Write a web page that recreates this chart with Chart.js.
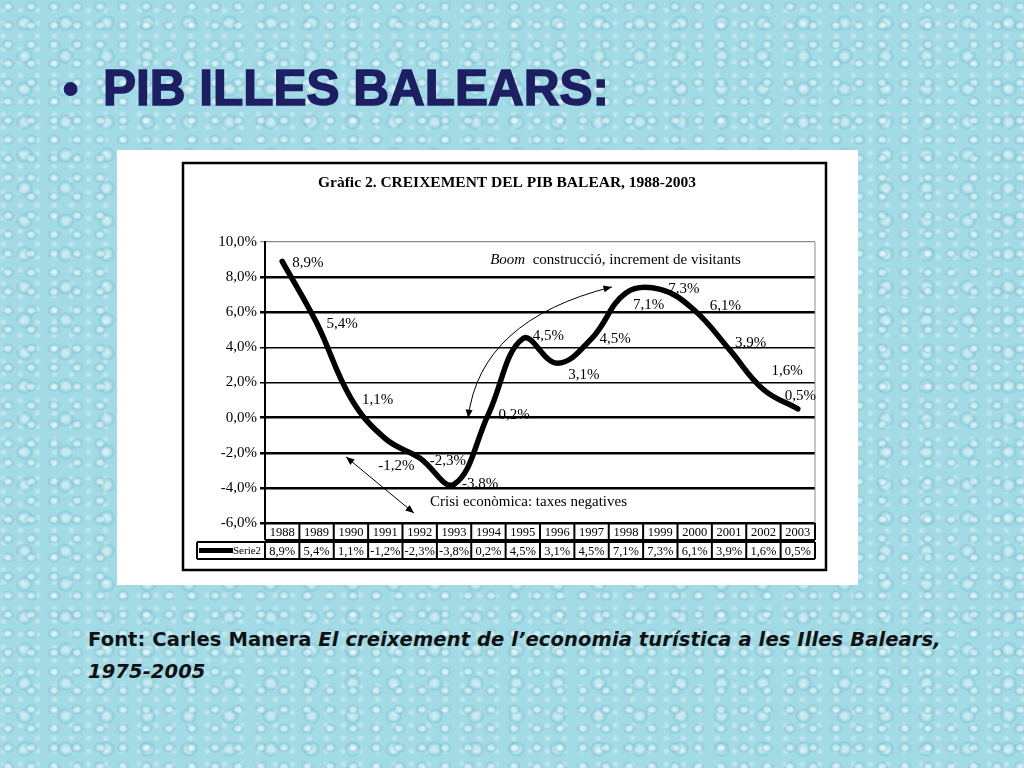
<!DOCTYPE html>
<html>
<head>
<meta charset="utf-8">
<script src="https://cdn.jsdelivr.net/npm/chart.js@4.4.0/dist/chart.umd.min.js"></script>
<style>
  html, body { margin: 0; padding: 0; }
  body {
    width: 1024px; height: 768px; overflow: hidden; position: relative;
    background-color: #a2dae5;
    background-image:
      radial-gradient(ellipse at 35% 35%, rgba(255,255,255,0.5) 0 2px, rgba(110,185,200,0.35) 5px, transparent 7px),
      radial-gradient(ellipse at 60% 70%, rgba(255,255,255,0.4) 0 3px, rgba(100,180,196,0.3) 7px, transparent 9px),
      radial-gradient(circle at 20% 80%, rgba(255,255,255,0.35) 0 1px, transparent 4px);
    background-size: 23px 19px, 41px 33px, 17px 13px;
  }
  .bullet { position: absolute; left: 62px; top: 64px; font: bold 49px/1 "Liberation Sans", Arial, sans-serif; color: #1d1f62; }
  .title { position: absolute; left: 103px; top: 63px; font: bold 49.5px/1 "Liberation Sans", Arial, sans-serif; color: #1d1f62; -webkit-text-stroke: 1.5px #1d1f62; }
  #frame { position: absolute; left: 117px; top: 150px; width: 741px; height: 435px; background: #fff; }
  .source { position: absolute; left: 88px; top: 624px; width: 920px; font: bold 19.5px/32px "DejaVu Sans", sans-serif; color: #111; letter-spacing: 0.1px; }
  .source i { font-style: italic; }
</style>
</head>
<body>
<div class="bullet">•</div>
<div class="title">PIB ILLES BALEARS:</div>
<div id="frame"><canvas id="pib-chart" width="741" height="435"></canvas></div>
<div class="source">Font: Carles Manera <i>El creixement de l’economia turística a les Illes Balears,<br>1975-2005</i></div>
<script>
document.addEventListener('DOMContentLoaded', function () {
    const years = ['1988', '1989', '1990', '1991', '1992', '1993', '1994', '1995',
        '1996', '1997', '1998', '1999', '2000', '2001', '2002', '2003'];
    const growth = [8.9, 5.4, 1.1, -1.2, -2.3, -3.8, 0.2, 4.5, 3.1, 4.5, 7.1, 7.3, 6.1, 3.9, 1.6, 0.5];
    const seriesName = 'Serie2';
    const chartTitle = 'Gràfic 2. CREIXEMENT DEL PIB BALEAR, 1988-2003';

    // where each value label sits, relative to its point
    const labelOffsets = [[10, 2], [10, 1], [11, 2], [-7, 27], [10, 3], [8, 0], [10, 1], [10, -3],
        [11, 12], [8, 0], [7, 12], [8, 0], [15, -4], [6, -6], [8, -18], [-13, -13]];

    const serif = '"Liberation Serif", "Times New Roman", serif';
    const fmt = v => v.toFixed(1).replace('.', ',') + '%';

    function arrowHead(c, x, y, fromX, fromY, size) {
        const a = Math.atan2(y - fromY, x - fromX);
        c.beginPath();
        c.moveTo(x, y);
        c.lineTo(x - size * Math.cos(a - 0.4), y - size * Math.sin(a - 0.4));
        c.lineTo(x - size * Math.cos(a + 0.4), y - size * Math.sin(a + 0.4));
        c.closePath();
        c.fill();
    }

    const slideFrame = {
        id: 'slideFrame',
        beforeDraw(chart) {
            const c = chart.ctx;
            c.save();
            c.fillStyle = '#fff';
            c.fillRect(0, 0, chart.width, chart.height);
            c.strokeStyle = '#000';
            c.lineWidth = 2.5;
            c.strokeRect(66, 13, 643, 407);
            c.fillStyle = '#000';
            c.font = 'bold 15.5px ' + serif;
            c.textAlign = 'center';
            c.textBaseline = 'middle';
            c.fillText(chartTitle, 390, 33);
            c.restore();
        },
        afterDraw(chart) {
            const c = chart.ctx;
            const area = chart.chartArea;
            const xs = chart.scales.x;
            const ys = chart.scales.y;
            const px = (i, v) => [xs.getPixelForValue(i), ys.getPixelForValue(v)];
            c.save();

            // right edge of plot
            c.strokeStyle = '#8a8a8a';
            c.lineWidth = 1;
            c.beginPath();
            c.moveTo(area.right, area.top);
            c.lineTo(area.right, area.bottom);
            c.stroke();

            // data table under the plot
            const cellW = (area.right - area.left) / years.length;
            const r1Top = area.bottom, r1Bot = area.bottom + 17;
            const r2Top = area.bottom + 19, r2Bot = area.bottom + 36;
            const legendLeft = 80;
            c.strokeStyle = '#000';
            c.lineWidth = 2;
            c.beginPath();
            c.moveTo(area.left, r1Bot); c.lineTo(area.right, r1Bot);
            c.moveTo(legendLeft, r2Top); c.lineTo(area.right, r2Top);
            c.moveTo(legendLeft, r2Bot); c.lineTo(area.right, r2Bot);
            c.moveTo(legendLeft, r2Top); c.lineTo(legendLeft, r2Bot);
            for (let i = 0; i <= years.length; i++) {
                const x = area.left + i * cellW;
                c.moveTo(x, r1Top); c.lineTo(x, r1Bot);
                c.moveTo(x, r2Top); c.lineTo(x, r2Bot);
            }
            c.stroke();

            c.fillStyle = '#000';
            c.font = '12.5px ' + serif;
            c.textAlign = 'center';
            c.textBaseline = 'middle';
            years.forEach((yr, i) => {
                const cx = xs.getPixelForValue(i);
                c.fillText(yr, cx, (r1Top + r1Bot) / 2 + 1);
                c.fillText(fmt(growth[i]), cx, (r2Top + r2Bot) / 2 + 1);
            });
            c.lineWidth = 5;
            c.beginPath();
            c.moveTo(legendLeft + 2, (r2Top + r2Bot) / 2);
            c.lineTo(legendLeft + 36, (r2Top + r2Bot) / 2);
            c.stroke();
            c.font = '11px ' + serif;
            c.textAlign = 'left';
            c.fillText(seriesName, legendLeft + 36, (r2Top + r2Bot) / 2 + 1);

            // annotations
            c.lineWidth = 1;
            const [a1x, a1y] = px(9.59, 7.44);
            const [a1cx, a1cy] = px(5.75, 5.56);
            const [a1ex, a1ey] = px(5.41, -0.02);
            c.beginPath();
            c.moveTo(a1x, a1y);
            c.quadraticCurveTo(a1cx, a1cy, a1ex, a1ey);
            c.stroke();
            arrowHead(c, a1x, a1y, a1cx, a1cy, 9);
            arrowHead(c, a1ex, a1ey, a1cx, a1cy, 9);

            const [b1x, b1y] = px(1.86, -2.24);
            const [b2x, b2y] = px(3.83, -5.43);
            c.beginPath();
            c.moveTo(b1x, b1y);
            c.lineTo(b2x, b2y);
            c.stroke();
            arrowHead(c, b1x, b1y, b2x, b2y, 9);
            arrowHead(c, b2x, b2y, b1x, b1y, 9);

            c.textBaseline = 'middle';
            c.textAlign = 'left';
            const [t1x, t1y] = px(6.05, 8.97);
            c.font = 'italic 15px ' + serif;
            c.fillText('Boom', t1x, t1y);
            const bw = c.measureText('Boom  ').width;
            c.font = '15px ' + serif;
            c.fillText('construcció, increment de visitants', t1x + bw, t1y);
            const [t2x, t2y] = px(4.3, -4.8);
            c.fillText('Crisi econòmica: taxes negatives', t2x, t2y);

            // value labels
            c.font = '15px ' + serif;
            chart.getDatasetMeta(0).data.forEach((pt, i) => {
                const off = labelOffsets[i];
                c.fillText(fmt(growth[i]), pt.x + off[0], pt.y + off[1]);
            });
            c.restore();
        }
    };

    const ctx = document.getElementById('pib-chart');
    new Chart(ctx, {
        type: 'line',
        data: {
            labels: years,
            datasets: [{
                label: seriesName,
                data: growth,
                borderColor: '#000',
                borderWidth: 5.5,
                tension: 0.4,
                pointRadius: 0,
                fill: false,
                borderCapStyle: 'round'
            }]
        },
        options: {
            responsive: false,
            animation: false,
            devicePixelRatio: 1,
            layout: { padding: { left: 0, top: 92, right: 43, bottom: 62 } },
            plugins: {
                legend: { display: false },
                title: { display: false },
                tooltip: { enabled: false }
            },
            scales: {
                x: { offset: true, display: false },
                y: {
                    min: -6,
                    max: 10,
                    afterFit: function (scale) { scale.width = 148; },
                    border: { color: '#000', width: 2 },
                    grid: {
                        tickLength: 5,
                        color: c => (c.tick && c.tick.value === 10) ? '#8a8a8a' : '#000',
                        lineWidth: c => {
                            const v = c.tick ? c.tick.value : 0;
                            if (v === 10) return 1.2;
                            if (v === 4 || v === 2) return 1.5;
                            return 2.5;
                        }
                    },
                    ticks: {
                        stepSize: 2,
                        padding: 3,
                        color: '#000',
                        font: { family: serif, size: 15 },
                        callback: v => fmt(v)
                    }
                }
            }
        },
        plugins: [slideFrame]
    });
});
</script>
</body>
</html>
